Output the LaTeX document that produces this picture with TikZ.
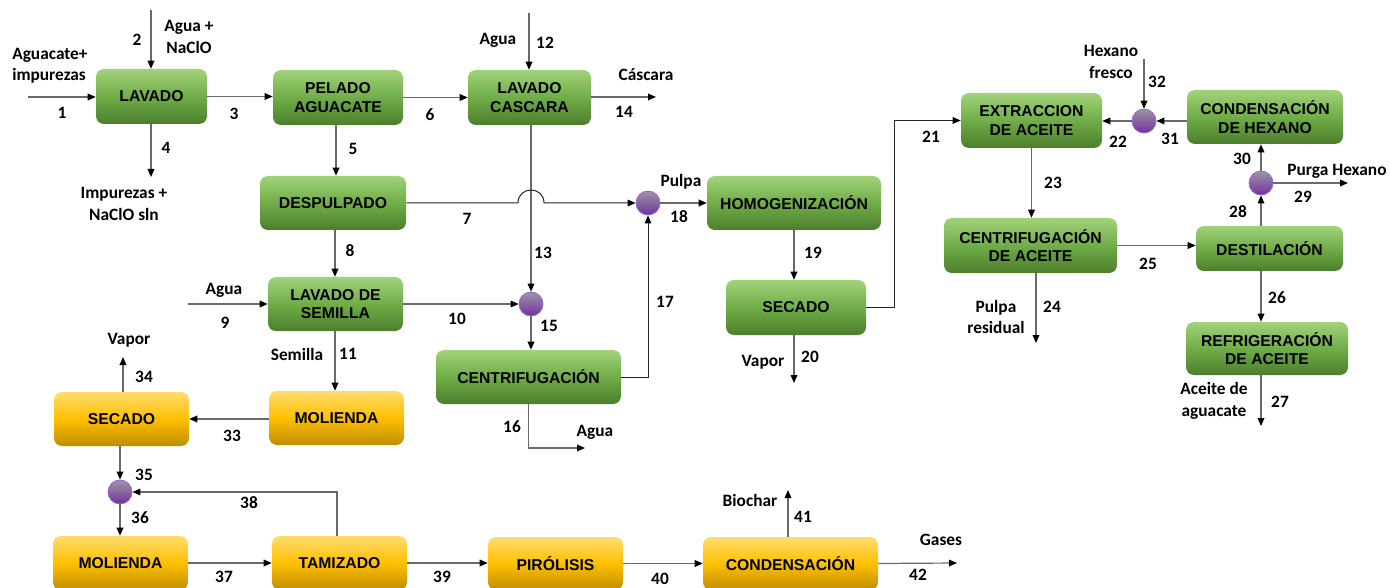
\documentclass[tikz,border=0pt]{standalone}
\usepackage{fontspec}
\setmainfont{Liberation Sans}
\newfontfamily\lblfont{Carlito}
\usetikzlibrary{arrows.meta,calc}
\definecolor{gtop}{RGB}{162,210,122}
\definecolor{gmid}{RGB}{112,173,71}
\definecolor{gbot}{RGB}{76,126,44}
\definecolor{ytop}{RGB}{255,220,110}
\definecolor{ymid}{RGB}{255,192,0}
\definecolor{ybot}{RGB}{190,142,0}
\definecolor{mtop}{RGB}{158,150,165}
\definecolor{mbot}{RGB}{112,48,160}
\definecolor{mixb}{RGB}{150,100,210}
\definecolor{lgray}{RGB}{105,105,105}
\newcommand\myproc[7]{\node[#1, minimum width={(#4-#2)*0.75pt}, minimum height={(#5-#3)*0.75pt}] (#6) at ({(#2+#4)/2},{(#3+#5)/2}) {#7};}
\begin{document}
\begin{tikzpicture}[x=0.75pt,y=-0.75pt,
 proc/.style={rounded corners=6pt, inner sep=0pt, align=center, font=\bfseries\fontsize{11.8}{14}\selectfont},
 gproc/.style={proc, top color=gtop, bottom color=gbot, middle color=gmid},
 yproc/.style={proc, top color=ytop, bottom color=ybot, middle color=ymid},
 mix/.style={circle, minimum size=18pt, inner sep=0pt, draw=mixb, line width=0.6pt, top color=mtop, bottom color=mbot},
 lbl/.style={font=\lblfont\bfseries\fontsize{13}{16}\selectfont, inner sep=0pt, align=center},
 arr/.style={draw=lgray, line width=0.9pt, -{Triangle[length=6pt,width=5pt,color=black]}},
 darr/.style={arr, draw=black!85, line width=0.75pt}]
\useasboundingbox (0,0) rectangle (1390,588);
% process boxes
\myproc{gproc}{96}{69}{207}{124}{lav}{LAVADO}
\myproc{gproc}{273}{70}{403}{125}{pel}{PELADO\\AGUACATE}
\myproc{gproc}{468}{70}{591}{125}{lcas}{LAVADO\\CASCARA}
\myproc{gproc}{260}{176}{406}{230}{desp}{DESPULPADO}
\myproc{gproc}{268}{277}{403}{331}{lsem}{LAVADO DE\\SEMILLA}
\myproc{gproc}{436}{350}{621}{404}{cen}{CENTRIFUGACIÓN}
\myproc{gproc}{707}{176}{881}{230}{hom}{HOMOGENIZACIÓN}
\myproc{gproc}{726}{280}{866}{335}{sec}{SECADO}
\myproc{gproc}{961}{93}{1102}{148}{ext}{EXTRACCION\\DE ACEITE}
\myproc{gproc}{1187}{90}{1343}{144}{cdh}{CONDENSACIÓN\\DE HEXANO}
\myproc{gproc}{944}{218}{1117}{273}{cea}{CENTRIFUGACIÓN\\DE ACEITE}
\myproc{gproc}{1196}{226}{1343}{271}{dest}{DESTILACIÓN}
\myproc{gproc}{1186}{322}{1348}{375}{refr}{REFRIGERACIÓN\\DE ACEITE}
\myproc{yproc}{54}{392}{189}{446}{sec2}{SECADO}
\myproc{yproc}{269}{391}{404}{445}{mol1}{MOLIENDA}
\myproc{yproc}{53}{536}{188}{590}{mol2}{MOLIENDA}
\myproc{yproc}{272}{536}{407}{590}{tam}{TAMIZADO}
\myproc{yproc}{488}{537}{623}{590}{pir}{PIRÓLISIS}
\myproc{yproc}{703}{537}{878}{590}{cond}{CONDENSACIÓN}
% mixers
\node[mix] (m15) at (531,304) {};
\node[mix] (m18) at (648,203) {};
\node[mix] (m22) at (1144,121) {};
\node[mix] (m28) at (1261,183) {};
\node[mix] (m35) at (120,492) {};
% free ends
\coordinate (c1) at (28,97);
\coordinate (c2) at (151,10);
\coordinate (c4) at (151,177);
\coordinate (x5) at (336,0);
\coordinate (c12) at (529,13);
\coordinate (c14) at (656,97);
\coordinate (c16) at (585,448);
\coordinate (c9) at (188,304);
\coordinate (x8) at (335,0);
\coordinate (c20) at (794,383);
\coordinate (c24) at (1036,343);
\coordinate (c27) at (1261,426);
\coordinate (c29) at (1348,183);
\coordinate (c32) at (1144,59);
\coordinate (c34) at (123,357);
\coordinate (x38) at (337,0);
\coordinate (c41) at (788,490);
\coordinate (c42) at (957,563);
\coordinate (h1) at (518,203);
\coordinate (h2) at (544,203);
% connectors
\draw[arr] (c1) -- (c1 -| lav.west);
\draw[arr] (c2) -- (c2 |- lav.north);
\draw[arr] (lav.east) -- (lav.east -| pel.west);
\draw[arr] (c4 |- lav.south) -- (c4);
\draw[arr] (x5 |- pel.south) -- (x5 |- desp.north);
\draw[arr] (pel.east) -- (pel.east -| lcas.west);
\draw[arr] (c12) -- (c12 |- lcas.north);
\draw[arr] (c14 -| lcas.east) -- (c14);
\draw[arr] (m15 |- lcas.south) -- (m15.north);
\draw[darr] (desp.east) -- (h1) .. controls ($(h1)+(0,-17.3)$) and ($(h2)+(0,-17.3)$) .. (h2) -- (m18.west);
\draw[arr] (m18.east) -- (m18.east -| hom.west);
\draw[darr] (cen.east) -| (m18.south);
\draw[arr] (cen.south) |- (c16);
\draw[arr] (lsem.east) -- (m15.west);
\draw[arr] (c9) -- (lsem.west);
\draw[arr] (m15.south) -- (m15 |- cen.north);
\draw[arr] (x8 |- desp.south) -- (x8 |- lsem.north);
\draw[arr] (x8 |- lsem.south) -- (x8 |- mol1.north);
\draw[arr] (hom.south) -- (hom.south |- sec.north);
\draw[arr] (c20 |- sec.south) -- (c20);
\draw[darr] (sec.east) -- ++(28,0) |- (ext.west);
\draw[arr] (ext.south) -- (ext.south |- cea.north);
\draw[arr] (c24 |- cea.south) -- (c24);
\draw[arr] (cea.east) -- (cea.east -| dest.west);
\draw[arr] (m28 |- dest.south) -- (m28 |- refr.north);
\draw[arr] (c27 |- refr.south) -- (c27);
\draw[arr] (m28 |- dest.north) -- (m28.south);
\draw[arr] (m28.north) -- (m28 |- cdh.south);
\draw[arr] (m28.east) -- (c29);
\draw[arr] (cdh.west |- m22) -- (m22.east);
\draw[arr] (m22.west) -- (ext.east |- m22);
\draw[arr] (c32) -- (m22.north);
\draw[arr] (mol1.west |- sec2.east) -- (sec2.east);
\draw[arr] (c34 |- sec2.north) -- (c34);
\draw[arr] (m35 |- sec2.south) -- (m35.north);
\draw[arr] (m35.south) -- (m35 |- mol2.north);
\draw[arr] (mol2.east) -- (mol2.east -| tam.west);
\draw[arr] (x38 |- tam.north) |- (m35.east);
\draw[arr] (tam.east) -- (tam.east -| pir.west);
\draw[arr] (pir.east) -- (pir.east -| cond.west);
\draw[arr] (c41 |- cond.north) -- (c41);
\draw[arr] (cond.east) -- (c42);
% labels
\node[lbl, anchor=west, align=left] (tA) at (12,66) {Aguacate+\\impurezas};
\node[lbl] (t1) at (62,113) {1};
\node[lbl] (t2) at (137,40) {2};
\node[lbl] (tB) at (189,37) {Agua +\\NaClO};
\node[lbl] (t3) at (234,114) {3};
\node[lbl] (t4) at (166,148) {4};
\node[lbl] (tC) at (124,204) {Impurezas +\\NaClO sln};
\node[lbl] (t5) at (353,149) {5};
\node[lbl] (t6) at (430,115) {6};
\node[lbl] (tD) at (498,40) {Agua};
\node[lbl] (t12) at (545,43) {12};
\node[lbl] (tE) at (646,75) {Cáscara};
\node[lbl] (t14) at (624,112) {14};
\node[lbl] (t7) at (467,219) {7};
\node[lbl] (tF) at (681,182) {Pulpa};
\node[lbl] (t18) at (679,217) {18};
\node[lbl] (t8) at (350,251) {8};
\node[lbl] (tG) at (224,290) {Agua};
\node[lbl] (t9) at (225,323) {9};
\node[lbl] (t10) at (457,319) {10};
\node[lbl] (t13) at (543,253) {13};
\node[lbl] (t15) at (549,326) {15};
\node[lbl] (tH) at (297,354) {Semilla};
\node[lbl] (t11) at (348,354) {11};
\node[lbl] (t17) at (665,302) {17};
\node[lbl] (t16) at (512,427) {16};
\node[lbl] (tI) at (595,432) {Agua};
\node[lbl] (t19) at (813,253) {19};
\node[lbl] (tJ) at (763,362) {Vapor};
\node[lbl] (t20) at (810,357) {20};
\node[lbl] (t21) at (931,137) {21};
\node[lbl] (tK) at (1111,62) {Hexano\\fresco};
\node[lbl] (t32) at (1157,82) {32};
\node[lbl] (t22) at (1118,142) {22};
\node[lbl] (t31) at (1170,139) {31};
\node[lbl] (t30) at (1242,159) {30};
\node[lbl] (tL) at (1337,171) {Purga Hexano};
\node[lbl] (t29) at (1303,197) {29};
\node[lbl] (t28) at (1238,212) {28};
\node[lbl] (t23) at (1053,183) {23};
\node[lbl] (t25) at (1148,264) {25};
\node[lbl] (tM) at (996,317) {Pulpa\\residual};
\node[lbl] (t24) at (1052,307) {24};
\node[lbl] (t26) at (1277,298) {26};
\node[lbl] (tN) at (1214,401) {Aceite de\\aguacate};
\node[lbl] (t27) at (1280,402) {27};
\node[lbl] (tO) at (129,340) {Vapor};
\node[lbl] (t34) at (144,377) {34};
\node[lbl] (t33) at (232,436) {33};
\node[lbl] (t35) at (144,475) {35};
\node[lbl] (t36) at (140,518) {36};
\node[lbl] (t38) at (249,503) {38};
\node[lbl] (t37) at (224,577) {37};
\node[lbl] (t39) at (442,577) {39};
\node[lbl] (t40) at (660,579) {40};
\node[lbl] (tP) at (750,500) {Biochar};
\node[lbl] (t41) at (803,517) {41};
\node[lbl] (tQ) at (941,540) {Gases};
\node[lbl] (t42) at (918,575) {42};
\end{tikzpicture}
\end{document}
